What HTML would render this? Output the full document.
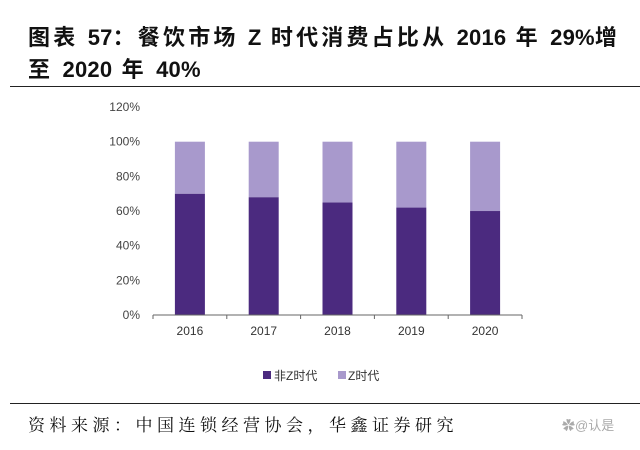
<!DOCTYPE html>
<html><head><meta charset="utf-8"><style>
body{margin:0;width:640px;height:450px;background:#fff;overflow:hidden;font-family:"Liberation Sans","Noto Sans CJK SC",sans-serif;}
.t{position:absolute;left:28px;top:22px;font-size:22px;font-weight:bold;line-height:32px;color:#111;letter-spacing:3.2px;white-space:nowrap;font-family:"Liberation Sans","Noto Sans CJK SC",sans-serif}
.t span{letter-spacing:0.2px}
.src{position:absolute;left:28px;top:411px;font-size:17px;color:#111;letter-spacing:4.5px;white-space:nowrap;font-family:"Liberation Sans","Noto Serif CJK SC",serif}
.wm{position:absolute;left:562px;top:415px;font-size:13px;color:#aaa}
</style></head><body>
<div class="t">图表 <span>57</span>：餐饮市场 <span>Z</span> 时代消费占比从 <span>2016</span> 年 <span>29%</span>增<br>至 <span>2020</span> 年 <span>40%</span></div>
<div style="position:absolute;left:10px;top:86px;width:630px;border-top:1.5px solid #222"></div>
<div style="position:absolute;left:10px;top:403px;width:630px;border-top:1.5px solid #222"></div>
<div class="src">资料来源：中国连锁经营协会，华鑫证券研究</div>
<div class="wm">✿@认是</div>
<svg id="c" width="640" height="450" style="position:absolute;left:0;top:0"></svg>
<script>
const categories=["2016","2017","2018","2019","2020"];
const nonZ=[70,68,65,62,60];
const zGen=[30,32,35,38,40];
const yTicks=[0,20,40,60,80,100,120];
const NS="http://www.w3.org/2000/svg";
const svg=document.getElementById('c');
const x0=153,x1=522,y0=315,pxPer=1.733;
const bw=(x1-x0)/categories.length;
function y(v){return y0-v*pxPer;}
function xc(i){return x0+bw*(i+0.5);}
function mk(t,a){const e=document.createElementNS(NS,t);for(const k in a)e.setAttribute(k,a[k]);svg.appendChild(e);return e;}
yTicks.forEach(v=>{const t=mk('text',{x:x0-13,y:y(v)+4,'text-anchor':'end','font-size':12,fill:'#444'});t.textContent=v+'%';

});
categories.forEach((c,i)=>{
const a=mk('rect',{x:xc(i)-15,y:y(nonZ[i]),width:30,height:nonZ[i]*pxPer,fill:'#4b2a7f'});


const b=mk('rect',{x:xc(i)-15,y:y(nonZ[i]+zGen[i]),width:30,height:zGen[i]*pxPer,fill:'#a899cc'});


const t=mk('text',{x:xc(i),y:y0+20,'text-anchor':'middle','font-size':12,fill:'#333'});t.textContent=c;


});
const ax=mk('line',{x1:x0,x2:x1,y1:y0,y2:y0,stroke:'#666','stroke-width':1});


for(let i=0;i<=categories.length;i++){const tk=mk('line',{x1:x0+bw*i,x2:x0+bw*i,y1:y0,y2:y0+4,stroke:'#666'});

}
const l1=mk('rect',{x:263,y:371,width:8,height:8,fill:'#4b2a7f'});


const lt1=mk('text',{x:274,y:380,'font-size':12,fill:'#333'});lt1.textContent='非Z时代';


const l2=mk('rect',{x:338,y:371,width:8,height:8,fill:'#a899cc'});


const lt2=mk('text',{x:348,y:380,'font-size':12,fill:'#333'});lt2.textContent='Z时代';


</script>
</body></html>
